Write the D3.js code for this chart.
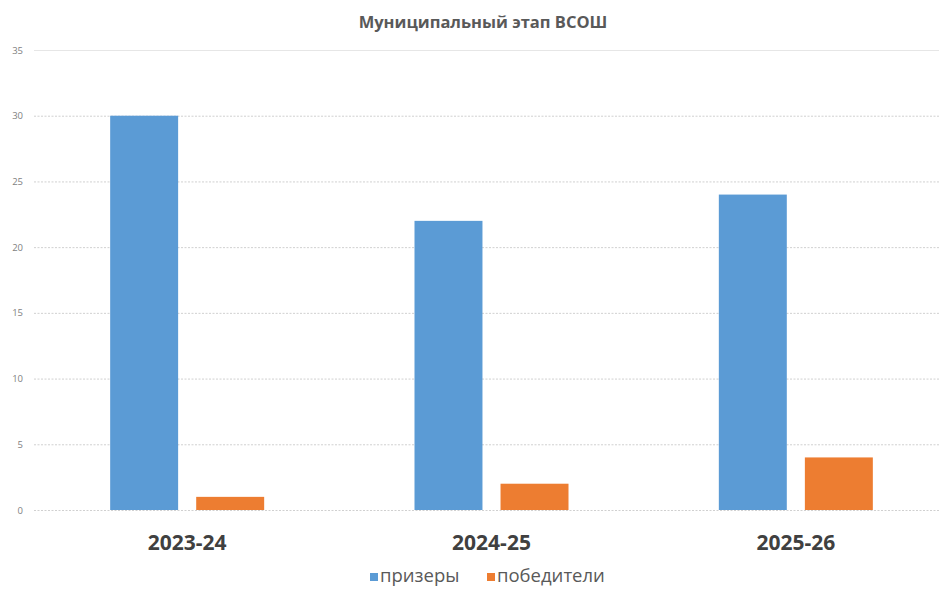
<!DOCTYPE html>
<html>
<head>
<meta charset="utf-8">
<script src="https://cdn.jsdelivr.net/npm/d3@7"></script>
<style>
  body { margin: 0; background: #fff; }
  text { font-family: "Open Sans", "DejaVu Sans", sans-serif; }
</style>
</head>
<body>
<div id="chart"></div>
<script>
const years = ['2023-24', '2024-25', '2025-26']
const seriesNames = ['призеры', 'победители']
const prizers = [30, 22, 24]
const winners = [1, 2, 4]
const yTicks = [0, 5, 10, 15, 20, 25, 30, 35]
const colors = ['#5b9bd5', '#ed7d31']

const W = 939, H = 590
const MARGIN = {TOP: 50, BOTTOM: 80, LEFT: 35, RIGHT: -9}
const HEIGHT = 510 - MARGIN.TOP

const svg = d3.select('#chart').append('svg')
    .attr('width', W)
    .attr('height', H)

const g = svg.append('g')
    .attr('transform', `translate(${MARGIN.LEFT}, ${MARGIN.TOP})`)

const WIDTH = W - MARGIN.LEFT - MARGIN.RIGHT

const y = d3.scaleLinear().domain([0, 35]).range([HEIGHT, 0])
const x = d3.scaleBand().domain(years).range([0, WIDTH]).padding(0)
const xInner = d3.scaleBand().domain(seriesNames)
    .range([x.bandwidth() / 2 - 77, x.bandwidth() / 2 + 77])
    .paddingInner(0.21)

// gridlines - top one solid, rest dotted
g.append('g').selectAll('line')
    .data(yTicks)
    .enter().append('line')
    .attr('x1', -1)
    .attr('x2', W - MARGIN.LEFT)
    .attr('y1', d => y(d) + 0.5)
    .attr('y2', d => y(d) + 0.5)
    .attr('stroke', d => d === 35 ? '#e6e6e6' : '#d0d0d0')
    .attr('stroke-dasharray', d => d === 35 ? null : '2,1.5')

const yAxis = d3.axisLeft(y).tickValues(yTicks).tickSize(0).tickPadding(12)
g.append('g').call(yAxis)
    .call(a => a.select('.domain').remove())
    .selectAll('text')
    .attr('fill', '#7f7f7f')
    .style('font-size', '9.5px')

const rows = years.map((yr, i) => ({year: yr, values: [prizers[i], winners[i]]}))

const groups = g.selectAll('.grp')
    .data(rows)
    .enter().append('g')
    .attr('transform', d => `translate(${x(d.year)}, 0)`)

groups.selectAll('rect')
    .data(d => d.values.map((v, j) => ({name: seriesNames[j], v, j})))
    .enter().append('rect')
    .attr('x', d => xInner(d.name))
    .attr('y', d => y(d.v))
    .attr('width', xInner.bandwidth())
    .attr('height', d => HEIGHT - y(d.v))
    .attr('fill', d => colors[d.j])

const xAxis = d3.axisBottom(x).tickSize(0).tickPadding(25)
g.append('g')
    .attr('transform', `translate(0, ${HEIGHT})`)
    .call(xAxis)
    .call(a => a.select('.domain').remove())
    .selectAll('text')
    .attr('fill', '#404040')
    .style('font-size', '21px')
    .style('font-weight', 'bold')

svg.append('text')
    .attr('x', 483)
    .attr('y', 28)
    .attr('text-anchor', 'middle')
    .attr('fill', '#595959')
    .style('font-size', '16.5px')
    .style('font-weight', 'bold')
    .text('Муниципальный этап ВСОШ')

// legend
const legend = svg.append('g').attr('transform', 'translate(370, 582)')
const legX = [0, 117]
seriesNames.forEach((n, i) => {
    const lg = legend.append('g').attr('transform', `translate(${legX[i]}, 0)`)
    lg.append('rect').attr('x', 0).attr('y', -9).attr('width', 8).attr('height', 8).attr('fill', colors[i])
    lg.append('text').attr('x', 10).attr('y', 0).attr('fill', '#595959')
        .style('font-size', '18.5px').text(n)
})
</script>
</body>
</html>
